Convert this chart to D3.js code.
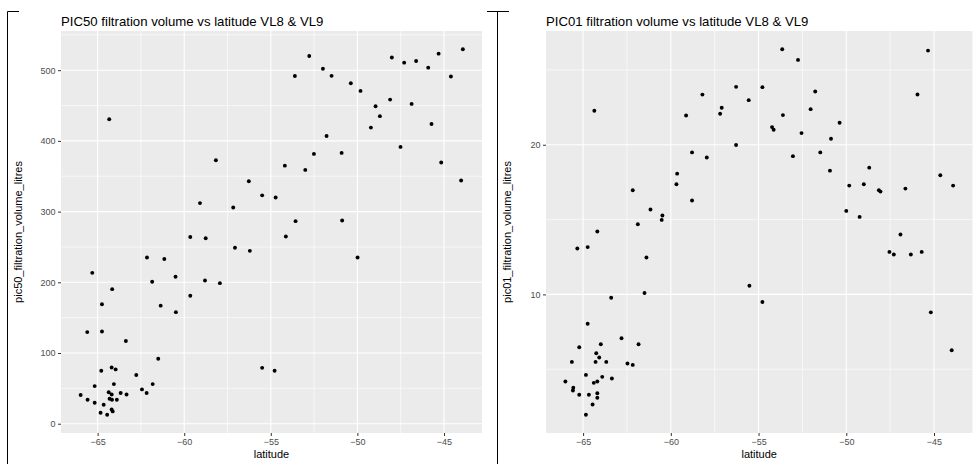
<!DOCTYPE html>
<html>
<head>
<meta charset="utf-8">
<script src="https://cdn.jsdelivr.net/npm/d3@7"></script>
<style>
  body { margin: 0; background: #fff; }
  text { font-family: "Liberation Sans", Arial, sans-serif; }
</style>
</head>
<body>
<svg id="chart" width="976" height="464"></svg>
<script>
// PIC50 panel
const pic50Lat = [-64.33, -58.17, -59.09, -57.17, -56.27, -53.61, -52.78, -51.99, -51.49, -50.38,
  -49.82, -48.95, -48.70, -49.22, -48.11, -48.01, -47.30, -46.61, -45.91, -45.31,
  -43.91, -44.60, -46.87, -45.72, -47.51, -51.78, -52.51, -50.91, -54.19, -53.01,
  -55.50, -54.72, -53.57, -50.88, -45.16, -44.01, -54.13, -49.99, -55.50, -54.78,
  -59.65, -58.76, -57.07, -62.15, -61.15, -65.31, -61.85, -60.50, -58.80, -57.94,
  -64.16, -59.65, -64.75, -61.36, -60.48, -65.60, -64.75, -63.37, -61.50, -64.19,
  -63.96, -64.79, -62.77, -61.82, -64.06, -65.17, -62.44, -62.17, -65.98, -64.36,
  -64.19, -63.67, -63.33, -64.31, -64.17, -63.89, -65.58, -65.17, -64.65, -64.19,
  -64.13, -64.83, -64.45, -56.21];
const pic50Vol = [430.7, 372.7, 312, 305.8, 343, 491.9, 520, 502, 492, 481.5,
  470.7, 449, 435, 418.8, 458.4, 518, 510.7, 513, 503.6, 523.4,
  529.6, 491, 452.3, 424, 391.5, 407, 381.6, 383, 365, 359,
  323, 320, 286.5, 287.4, 369.4, 344, 264.7, 235, 79, 75,
  264, 262.4, 248.8, 235, 233, 213.4, 200.7, 207.8, 202.6, 198.8,
  190.3, 181, 169, 167, 157.8, 129.6, 130.5, 116.9, 91.9, 79.6,
  76.8, 74.9, 68.8, 56, 56, 53.2, 48.5, 43.4, 40.5, 44.4,
  41.4, 43.4, 41.4, 35.3, 33.9, 33.9, 33.9, 29.7, 26.9, 20.2,
  17.4, 15.5, 12.7, 244.5];

// PIC01 panel
const pic01Lat = [-64.36, -58.20, -56.28, -55.56, -59.13, -57.10, -57.19, -56.28, -58.79, -57.95,
  -59.64, -59.68, -62.17, -58.79, -61.16, -60.48, -60.52, -61.88, -53.65, -52.75,
  -45.34, -54.78, -51.77, -45.94, -52.03, -53.61, -54.23, -54.14, -50.38, -52.55,
  -50.87, -53.04, -51.48, -50.93, -48.69, -49.83, -49.00, -48.14, -48.05, -46.63,
  -44.64, -43.91, -50.00, -49.24, -55.52, -54.78, -46.91, -47.54, -47.29, -46.32,
  -45.70, -45.18, -43.99, -64.19, -65.33, -64.74, -61.39, -61.50, -63.40, -64.74,
  -62.81, -61.84, -65.22, -63.99, -64.25, -64.08, -64.29, -65.64, -63.68, -62.47,
  -62.17, -64.84, -66.01, -64.19, -64.39, -63.91, -63.36, -65.56, -65.58, -65.22,
  -64.67, -64.19, -64.19, -64.46, -64.84];
const pic01Vol = [22.27, 23.35, 23.87, 22.98, 21.95, 22.47, 22.07, 19.98, 19.49, 19.15,
  18.07, 17.36, 16.96, 16.27, 15.67, 15.27, 14.98, 14.69, 26.38, 25.67,
  26.29, 23.85, 23.56, 23.36, 22.38, 21.98, 21.18, 21.0, 21.47, 20.78,
  20.4, 19.24, 19.49, 18.27, 18.47, 17.27, 17.36, 16.96, 16.87, 17.07,
  17.96, 17.27, 15.58, 15.18, 10.58, 9.49, 14.0, 12.84, 12.67, 12.67,
  12.84, 8.8, 6.27, 14.2, 13.07, 13.16, 12.47, 10.09, 9.78, 8.04,
  7.07, 6.67, 6.47, 6.67, 6.07, 5.78, 5.49, 5.49, 5.49, 5.38,
  5.29, 4.62, 4.18, 4.18, 4.09, 4.49, 4.38, 3.76, 3.58, 3.29,
  3.29, 3.4, 3.09, 2.64, 1.96];

const xTicks = [-65, -60, -55, -50, -45];
const pic50Ticks = [0, 100, 200, 300, 400, 500];
const pic01Ticks = [10, 20];

const svg = d3.select("#chart");

svg.append("rect").attr("width", 976).attr("height", 464).attr("fill", "#fff");

// window frame lines from the screenshot
svg.append("path")
  .attr("d", "M19,11.5H7.5V464")
  .attr("fill", "none").attr("stroke", "#000").attr("stroke-width", 1);
svg.append("path")
  .attr("d", "M487,11.5H509M497.5,11.5V464")
  .attr("fill", "none").attr("stroke", "#000").attr("stroke-width", 1);

// ggplot style 5% expansion
const expand = (ext) => {
  const r = ext[1] - ext[0];
  return [ext[0] - 0.05 * r, ext[1] + 0.05 * r];
};

const midpoints = (ticks, domain) => {
  const step = ticks[1] - ticks[0];
  const out = [];
  for (let v = ticks[0] - step / 2; v <= domain[1]; v += step) {
    if (v >= domain[0]) out.push(v);
  }
  return out;
};

const drawPanel = (p) => {
  const allLat = pic50Lat.concat(pic01Lat);
  const x = d3.scaleLinear().domain(expand(d3.extent(allLat))).range([p.left, p.right]);
  const y = d3.scaleLinear().domain(expand(d3.extent(p.vol))).range([p.bottom, p.top]);

  const g = svg.append("g");

  g.append("rect")
    .attr("x", p.left).attr("y", p.top)
    .attr("width", p.right - p.left).attr("height", p.bottom - p.top)
    .attr("fill", "#EBEBEB");

  // minor grid
  g.selectAll(".xminor").data(midpoints(xTicks, x.domain())).join("line")
    .attr("x1", d => x(d)).attr("x2", d => x(d))
    .attr("y1", p.top).attr("y2", p.bottom)
    .attr("stroke", "#fff").attr("stroke-width", 0.6);
  g.selectAll(".yminor").data(midpoints(p.yTicks, y.domain())).join("line")
    .attr("y1", d => y(d)).attr("y2", d => y(d))
    .attr("x1", p.left).attr("x2", p.right)
    .attr("stroke", "#fff").attr("stroke-width", 0.6);

  // major grid
  g.selectAll(".xmajor").data(xTicks).join("line")
    .attr("x1", d => x(d)).attr("x2", d => x(d))
    .attr("y1", p.top).attr("y2", p.bottom)
    .attr("stroke", "#fff").attr("stroke-width", 1.1);
  g.selectAll(".ymajor").data(p.yTicks).join("line")
    .attr("y1", d => y(d)).attr("y2", d => y(d))
    .attr("x1", p.left).attr("x2", p.right)
    .attr("stroke", "#fff").attr("stroke-width", 1.1);

  // axes
  const xAxis = d3.axisBottom(x).tickValues(xTicks).tickSize(3).tickPadding(3);
  const yAxis = d3.axisLeft(y).tickValues(p.yTicks).tickSize(3).tickPadding(2.5);

  const gx = g.append("g").attr("transform", "translate(0," + p.bottom + ")").call(xAxis);
  const gy = g.append("g").attr("transform", "translate(" + p.left + ",0)").call(yAxis);
  [gx, gy].forEach(a => {
    a.select(".domain").remove();
    a.selectAll(".tick line").attr("stroke", "#333333");
    a.selectAll(".tick text")
      .attr("fill", "#4D4D4D")
      .style("font-size", "9px")
      .style("font-family", "'Liberation Sans', Arial, sans-serif");
  });

  // points
  g.selectAll("circle").data(p.lat).join("circle")
    .attr("cx", d => x(d))
    .attr("cy", (d, i) => y(p.vol[i]))
    .attr("r", 1.95)
    .attr("fill", "#000");

  // titles
  g.append("text")
    .attr("x", p.left).attr("y", 26)
    .style("font-size", "13.2px")
    .text(p.title);

  g.append("text")
    .attr("x", (p.left + p.right) / 2).attr("y", 458)
    .attr("text-anchor", "middle")
    .style("font-size", "11px")
    .text("latitude");

  g.append("text")
    .attr("transform", "translate(" + p.yLabelX + "," + ((p.top + p.bottom) / 2) + ") rotate(-90)")
    .attr("text-anchor", "middle")
    .style("font-size", "11px")
    .text(p.yLabel);
};

drawPanel({
  title: "PIC50 filtration volume vs latitude VL8 & VL9",
  yLabel: "pic50_filtration_volume_litres",
  lat: pic50Lat, vol: pic50Vol, yTicks: pic50Ticks,
  left: 61, right: 482, top: 31, bottom: 433, yLabelX: 22
});

drawPanel({
  title: "PIC01 filtration volume vs latitude VL8 & VL9",
  yLabel: "pic01_filtration_volume_litres",
  lat: pic01Lat, vol: pic01Vol, yTicks: pic01Ticks,
  left: 546, right: 972.5, top: 31, bottom: 433, yLabelX: 511
});
</script>
</body>
</html>
